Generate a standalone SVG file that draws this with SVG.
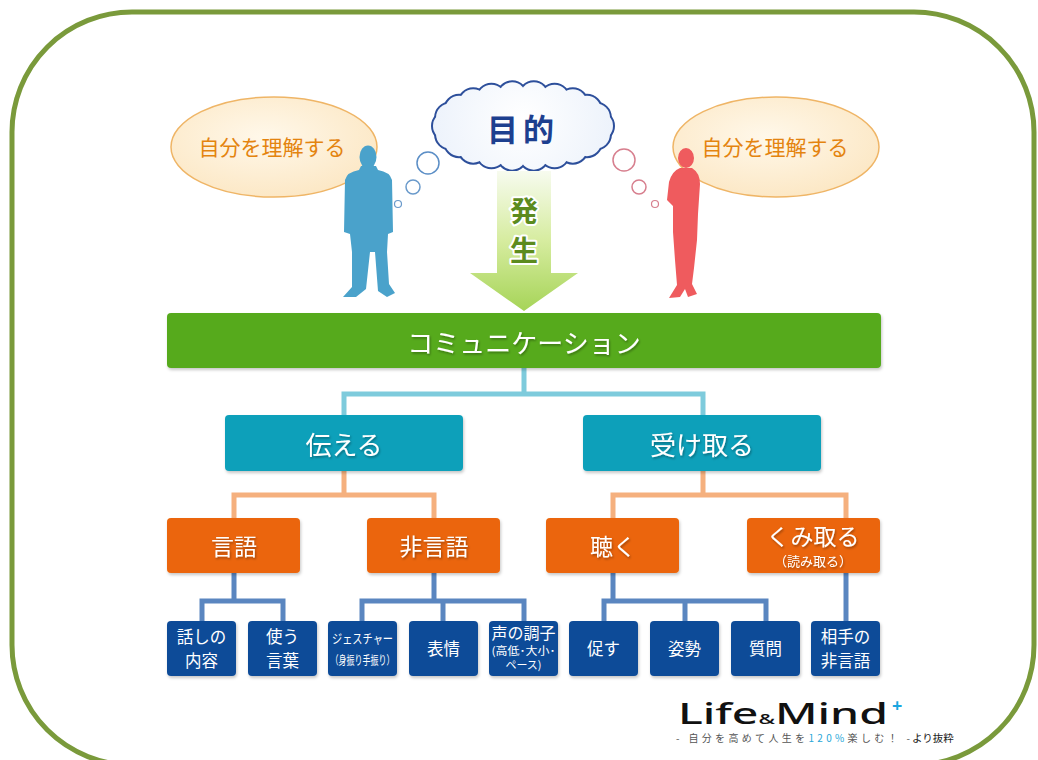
<svg xmlns="http://www.w3.org/2000/svg" width="1038" height="760" viewBox="0 0 1038 760">
  <style>
    .jp { font-family: "Noto Sans CJK JP", "Noto Sans", sans-serif; }
    .lbl { fill: #ffffff; text-anchor: middle; dominant-baseline: central; font-family: "Noto Sans CJK JP", sans-serif; }
    .big { font-size: 26px; filter: url(#txtShadow); }
    .mid { font-size: 23px; filter: url(#txtShadow); }
    .sm { font-size: 16.5px; }
    .l-teal { stroke: #7ecbdc; stroke-width: 5; fill: none; }
    .l-org { stroke: #f5b07e; stroke-width: 5; fill: none; }
    .l-blue { stroke: #5a86c0; stroke-width: 5; fill: none; }
    .b-green { fill: #56aa1b; filter: url(#boxShadow); }
    .b-teal { fill: #10a0ba; filter: url(#boxShadow); }
    .b-org { fill: #eb6508; filter: url(#boxShadow); }
    .b-navy { fill: #0e4b98; filter: url(#boxShadow); }
    .thought { stroke: #efb566; stroke-width: 1.5; }
    .thought-t { fill: #e4840f; font-size: 21px; text-anchor: middle; dominant-baseline: central; font-family: "Noto Sans CJK JP", sans-serif; }
  </style>
  <defs>
    <filter id="boxShadow" x="-10%" y="-10%" width="125%" height="130%">
      <feDropShadow dx="1" dy="2" stdDeviation="1.5" flood-color="#000" flood-opacity="0.22"/>
    </filter>
    <filter id="txtShadow" x="-10%" y="-20%" width="125%" height="150%">
      <feDropShadow dx="1" dy="1.5" stdDeviation="1" flood-color="#000" flood-opacity="0.35"/>
    </filter>
    <linearGradient id="arrowGrad" x1="0" y1="0" x2="0" y2="1">
      <stop offset="0" stop-color="#f7fbef"/>
      <stop offset="0.5" stop-color="#d6ec9f"/>
      <stop offset="1" stop-color="#a6d458"/>
    </linearGradient>
    <radialGradient id="cloudGrad" gradientUnits="userSpaceOnUse" cx="523" cy="120" r="95">
      <stop offset="0" stop-color="#ffffff"/>
      <stop offset="1" stop-color="#ecf2fb"/>
    </radialGradient>
    <radialGradient id="ovalGrad" cx="0.45" cy="0.4" r="0.6">
      <stop offset="0" stop-color="#fff8ea"/>
      <stop offset="1" stop-color="#fce8c6"/>
    </radialGradient>
    <!-- puffs that make up the cloud outline -->
    <g id="cloudPuffs">
      <ellipse cx="523" cy="126" rx="80" ry="32"/>
      <circle cx="599" cy="126" r="14"/>
      <circle cx="595.9" cy="134.5" r="14"/>
      <circle cx="586.9" cy="142.2" r="14"/>
      <circle cx="572.8" cy="148.7" r="14"/>
      <circle cx="554.6" cy="153.3" r="14"/>
      <circle cx="533.8" cy="155.7" r="14"/>
      <circle cx="512.2" cy="155.7" r="14"/>
      <circle cx="491.4" cy="153.3" r="14"/>
      <circle cx="473.2" cy="148.7" r="14"/>
      <circle cx="459.1" cy="142.2" r="14"/>
      <circle cx="450.1" cy="134.5" r="14"/>
      <circle cx="447" cy="126" r="14"/>
      <circle cx="450.1" cy="117.5" r="14"/>
      <circle cx="459.1" cy="109.8" r="14"/>
      <circle cx="473.2" cy="103.3" r="14"/>
      <circle cx="491.4" cy="98.7" r="14"/>
      <circle cx="512.2" cy="96.3" r="14"/>
      <circle cx="533.8" cy="96.3" r="14"/>
      <circle cx="554.6" cy="98.7" r="14"/>
      <circle cx="572.8" cy="103.3" r="14"/>
      <circle cx="586.9" cy="109.8" r="14"/>
      <circle cx="595.9" cy="117.5" r="14"/>
    </g>
  </defs>

  <!-- outer frame -->
  <rect x="12" y="12" width="1022" height="753" rx="120" ry="120" fill="#ffffff" stroke="#7a9a3b" stroke-width="5"/>

  <!-- left thinker -->
  <g id="self-left">
    <ellipse cx="274" cy="147" rx="103" ry="50" class="thought" fill="url(#ovalGrad)"/>
    <text x="272" y="146" class="thought-t">自分を理解する</text>
  </g>
  <g id="man">
    <ellipse cx="368" cy="157" rx="8.5" ry="11.5" fill="#4aa2cb"/>
    <path d="M361 166 L376 166 L378 170 Q390 172 392 180 L393 232 L388 234 L387 252 L389 284 L395 293 L387 297 L378 291 L375 252 L370 252 L366 289 L356 297 L343 297 L352 287 L352 252 L350 234 L344 232 L345 180 Q347 172 359 170 Z" fill="#4aa2cb"/>
    <circle cx="428" cy="163" r="11" fill="#fff" stroke="#5b8ec6" stroke-width="1.5"/>
    <circle cx="413" cy="187" r="7" fill="#fff" stroke="#6a9acb" stroke-width="1.5"/>
    <circle cx="398" cy="204" r="3.5" fill="#fff" stroke="#6a9acb" stroke-width="1.2"/>
  </g>

  <!-- right thinker -->
  <g id="self-right">
    <ellipse cx="776" cy="147" rx="103" ry="50" class="thought" fill="url(#ovalGrad)"/>
    <text x="775" y="146" class="thought-t">自分を理解する</text>
  </g>
  <g id="woman">
    <ellipse cx="686" cy="158" rx="8" ry="10" fill="#ef5b5e"/>
    <path d="M680 168 L692 168 Q700 173 700 184 L698 214 L697 240 L694 268 L692 284 L697 294 L688 297 L685 289 L680 297 L669 298 L677 285 L675 260 L673 232 L673 206 L667 200 L669 182 Q672 171 680 168 Z" fill="#ef5b5e"/>
    <circle cx="624" cy="160" r="11" fill="#fff" stroke="#d77f8e" stroke-width="1.5"/>
    <circle cx="639" cy="187" r="7" fill="#fff" stroke="#d77f8e" stroke-width="1.5"/>
    <circle cx="655" cy="204" r="3.5" fill="#fff" stroke="#d77f8e" stroke-width="1.2"/>
  </g>

  <!-- purpose cloud: stroked puffs underneath, filled puffs on top leave only the outer rim -->
  <g id="purpose">
    <use href="#cloudPuffs" fill="#2d4f9b" stroke="#2d4f9b" stroke-width="4"/>
    <use href="#cloudPuffs" fill="url(#cloudGrad)" stroke="none"/>
    <text x="523" y="127" font-family="Noto Sans CJK JP, sans-serif" font-size="31" font-weight="bold" fill="#1d3f8f" text-anchor="middle" dominant-baseline="central" letter-spacing="5">目的</text>
  </g>

  <!-- arising arrow -->
  <g id="arise">
    <path d="M497 171 L551 171 L551 273 L578 273 L524 311 L470 273 L497 273 Z" fill="url(#arrowGrad)"/>
    <g font-family="Noto Sans CJK JP, sans-serif" font-size="28" font-weight="bold" fill="#5c8b1e" text-anchor="middle" dominant-baseline="central" stroke="#ffffff" stroke-width="4" paint-order="stroke" stroke-linejoin="round">
      <text x="524" y="210">発</text>
      <text x="524" y="249">生</text>
    </g>
  </g>

  <!-- connectors -->
  <g id="connectors">
    <path class="l-teal" d="M524 368 V394 M344 415 V394 H703 V415"/>
    <path class="l-org" d="M344 470 V495 M234 518 V495 H434 V518"/>
    <path class="l-org" d="M703 470 V495 M613 518 V495 H846 V518"/>
    <path class="l-blue" d="M234 573 V601 M202 621 V601 H283 V621"/>
    <path class="l-blue" d="M434 573 V601 M362 621 V601 H524 V621 M443 601 V621"/>
    <path class="l-blue" d="M613 573 V601 M604 621 V601 H766 V621 M685 601 V621"/>
    <path class="l-blue" d="M846 573 V621"/>
  </g>

  <!-- level 1 -->
  <g id="communication">
    <rect x="167" y="313" width="714" height="55" rx="4" class="b-green"/>
    <text x="524" y="341" class="lbl big">コミュニケーション</text>
  </g>

  <!-- level 2 -->
  <g id="send">
    <rect x="225" y="415" width="238" height="56" rx="4" class="b-teal"/>
    <text x="344" y="443" class="lbl big">伝える</text>
  </g>
  <g id="receive">
    <rect x="583" y="415" width="238" height="56" rx="4" class="b-teal"/>
    <text x="702" y="443" class="lbl big">受け取る</text>
  </g>

  <!-- level 3 -->
  <g id="verbal">
    <rect x="167" y="518" width="133" height="55" rx="4" class="b-org"/>
    <text x="234" y="545" class="lbl mid">言語</text>
  </g>
  <g id="nonverbal">
    <rect x="367" y="518" width="133" height="55" rx="4" class="b-org"/>
    <text x="434" y="545" class="lbl mid">非言語</text>
  </g>
  <g id="listen">
    <rect x="546" y="518" width="133" height="55" rx="4" class="b-org"/>
    <text x="613" y="545" class="lbl mid">聴く</text>
  </g>
  <g id="read">
    <rect x="747" y="518" width="133" height="55" rx="4" class="b-org"/>
    <text x="813" y="535" class="lbl mid">くみ取る</text>
    <text x="813" y="560" class="lbl" font-size="13" filter="url(#txtShadow)">（読み取る）</text>
  </g>

  <!-- level 4 -->
  <g id="content">
    <rect x="167" y="621" width="69" height="55" rx="4" class="b-navy"/>
    <text x="201.5" y="636" class="lbl sm">話しの</text>
    <text x="201.5" y="660" class="lbl sm">内容</text>
  </g>
  <g id="words">
    <rect x="248" y="621" width="69" height="55" rx="4" class="b-navy"/>
    <text x="282.5" y="636" class="lbl sm">使う</text>
    <text x="282.5" y="660" class="lbl sm">言葉</text>
  </g>
  <g id="gesture">
    <rect x="328" y="621" width="69" height="55" rx="4" class="b-navy"/>
    <text x="362.5" y="637" class="lbl" font-size="13" textLength="61" lengthAdjust="spacingAndGlyphs">ジェスチャー</text>
    <text x="362.5" y="659" class="lbl" font-size="12" textLength="64" lengthAdjust="spacingAndGlyphs">（身振り手振り）</text>
  </g>
  <g id="expression">
    <rect x="409" y="621" width="69" height="55" rx="4" class="b-navy"/>
    <text x="443.5" y="648" class="lbl sm">表情</text>
  </g>
  <g id="voice">
    <rect x="489" y="621" width="69" height="55" rx="4" class="b-navy"/>
    <text x="523.5" y="632" class="lbl" font-size="16">声の調子</text>
    <text x="523.5" y="650" class="lbl" font-size="11" textLength="64" lengthAdjust="spacingAndGlyphs">(高低･大小･</text>
    <text x="523.5" y="664" class="lbl" font-size="11">ペース)</text>
  </g>
  <g id="prompt">
    <rect x="569" y="621" width="69" height="55" rx="4" class="b-navy"/>
    <text x="603.5" y="648" class="lbl sm">促す</text>
  </g>
  <g id="posture">
    <rect x="650" y="621" width="69" height="55" rx="4" class="b-navy"/>
    <text x="684.5" y="648" class="lbl sm">姿勢</text>
  </g>
  <g id="question">
    <rect x="731" y="621" width="69" height="55" rx="4" class="b-navy"/>
    <text x="765.5" y="648" class="lbl sm">質問</text>
  </g>
  <g id="partner">
    <rect x="811" y="621" width="69" height="55" rx="4" class="b-navy"/>
    <text x="845.5" y="636" class="lbl sm">相手の</text>
    <text x="845.5" y="660" class="lbl sm">非言語</text>
  </g>

  <!-- source credit -->
  <g id="credit">
    <text x="678" y="724" font-family="Noto Sans, sans-serif" font-size="29" font-weight="500" fill="#111" textLength="210" lengthAdjust="spacingAndGlyphs">Life<tspan font-size="14">&amp;</tspan>Mind</text>
    <text x="892" y="712" font-family="Noto Sans, sans-serif" font-size="18" font-weight="bold" fill="#1aa6e0">+</text>
    <text x="676" y="742" class="jp" font-size="10" fill="#555" textLength="234" lengthAdjust="spacing">- 自分を高めて人生を<tspan fill="#2aa7d8">120%</tspan>楽しむ！ -</text>
    <text x="912" y="742" class="jp" font-size="10.5" fill="#222">より抜粋</text>
  </g>
</svg>
